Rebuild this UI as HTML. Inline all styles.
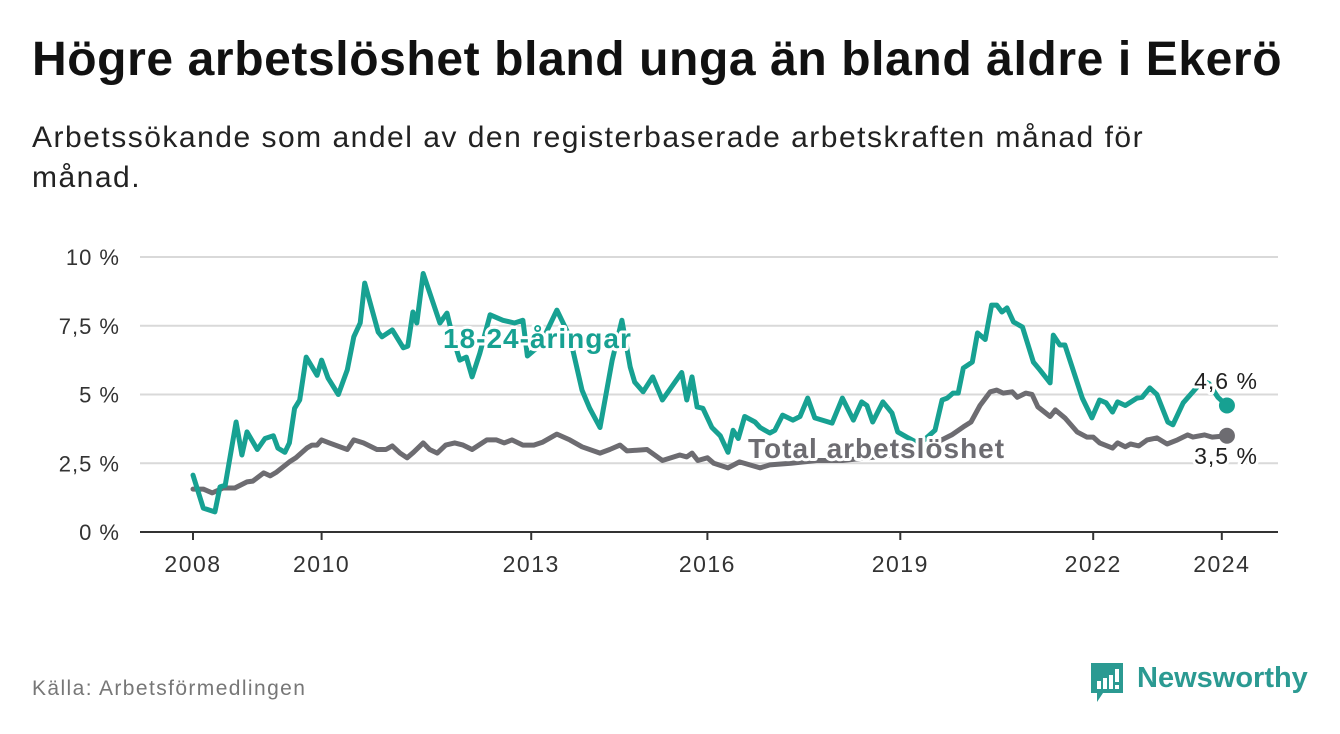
<!DOCTYPE html>
<html><head><meta charset="utf-8">
<style>
html,body{margin:0;padding:0;background:#fff;}
body{width:1340px;height:734px;position:relative;overflow:hidden;font-family:"Liberation Sans","DejaVu Sans",sans-serif;}
h1{position:absolute;left:32px;top:36px;margin:0;font-size:48px;line-height:48px;font-weight:bold;color:#111;letter-spacing:0.6px;white-space:nowrap;}
.sub{position:absolute;left:32px;top:118px;width:1185px;margin:0;font-size:30px;line-height:40px;letter-spacing:1.5px;color:#222;}
.src{position:absolute;left:32px;top:677px;font-size:21px;letter-spacing:1.4px;color:#777;}
svg{position:absolute;left:0;top:0;}
</style></head>
<body>
<h1>Högre arbetslöshet bland unga än bland äldre i Ekerö</h1>
<p class="sub">Arbetssökande som andel av den registerbaserade arbetskraften månad för månad.</p>
<div class="src">Källa: Arbetsförmedlingen</div>
<svg id="chart" width="1340" height="734"></svg>
<div style="position:absolute;left:1089px;top:661px;width:220px;height:44px;">
  <svg width="36" height="44" style="position:absolute;left:0;top:0">
    <path d="M2 2 H34 V32 H14 L8 41 L8 32 H2 Z" fill="#2b9a92"/>
    <rect x="8" y="20" width="4" height="8" fill="#fff"/><rect x="14" y="17" width="4" height="11" fill="#fff"/><rect x="20" y="14" width="4" height="14" fill="#fff"/><rect x="26" y="8" width="4" height="13" fill="#fff"/><rect x="26" y="24" width="4" height="4" fill="#fff"/>
  </svg>
  <div style="position:absolute;left:48px;top:1px;font-size:29px;font-weight:bold;color:#2b9a92;">Newsworthy</div>
</div>
<script>
const yTicks=[0,2.5,5,7.5,10];
const yTickLabels=["0 %","2,5 %","5 %","7,5 %","10 %"];
const xTicks=[2008,2010,2013.26,2016,2019,2022,2024];
const xTickLabels=["2008","2010","2013","2016","2019","2022","2024"];
const youthDates=[2008.0,2008.16,2008.34,2008.42,2008.5,2008.67,2008.76,2008.84,2009.0,2009.12,2009.25,2009.32,2009.43,2009.5,2009.58,2009.66,2009.76,2009.93,2010.0,2010.1,2010.26,2010.4,2010.5,2010.6,2010.67,2010.88,2010.94,2011.1,2011.27,2011.34,2011.42,2011.48,2011.58,2011.84,2011.95,2012.05,2012.15,2012.25,2012.34,2012.46,2012.62,2012.82,2013.0,2013.13,2013.2,2013.4,2013.66,2013.86,2014.05,2014.17,2014.33,2014.52,2014.67,2014.8,2014.87,2015.0,2015.15,2015.3,2015.6,2015.68,2015.76,2015.84,2015.93,2016.07,2016.2,2016.32,2016.4,2016.48,2016.58,2016.74,2016.82,2016.97,2017.05,2017.17,2017.33,2017.44,2017.56,2017.67,2017.94,2018.1,2018.27,2018.4,2018.48,2018.57,2018.73,2018.87,2018.96,2019.1,2019.3,2019.54,2019.65,2019.73,2019.82,2019.9,2019.98,2020.12,2020.2,2020.32,2020.42,2020.5,2020.58,2020.66,2020.76,2020.9,2021.07,2021.17,2021.33,2021.38,2021.48,2021.56,2021.83,2021.98,2022.1,2022.2,2022.3,2022.38,2022.5,2022.68,2022.76,2022.88,2022.99,2023.16,2023.24,2023.4,2023.55,2023.7,2023.8,2023.94,2024.08];
const youthValues=[2.07,0.87,0.73,1.64,1.7,4.0,2.8,3.64,3.0,3.4,3.5,3.05,2.9,3.24,4.5,4.8,6.36,5.7,6.25,5.6,5.0,5.9,7.1,7.6,9.05,7.27,7.1,7.35,6.7,6.76,8.0,7.6,9.4,7.6,7.96,7.0,6.25,6.36,5.64,6.5,7.9,7.7,7.6,7.7,6.4,6.8,8.07,7.1,5.16,4.5,3.8,6.25,7.7,6.0,5.45,5.1,5.64,4.8,5.8,4.8,5.64,4.55,4.5,3.8,3.5,2.9,3.7,3.4,4.2,4.0,3.8,3.6,3.7,4.25,4.07,4.2,4.87,4.15,3.96,4.87,4.07,4.73,4.6,4.0,4.73,4.33,3.64,3.45,3.2,3.7,4.8,4.87,5.05,5.05,5.96,6.18,7.24,7.0,8.25,8.25,8.0,8.15,7.64,7.45,6.18,5.9,5.42,7.16,6.8,6.8,4.87,4.15,4.8,4.7,4.36,4.73,4.6,4.87,4.9,5.24,5.0,4.0,3.9,4.7,5.1,5.5,5.4,4.9,4.6];
const totalDates=[2008.0,2008.16,2008.3,2008.47,2008.65,2008.84,2008.93,2009.1,2009.2,2009.3,2009.5,2009.6,2009.77,2009.85,2009.93,2010.0,2010.12,2010.4,2010.5,2010.65,2010.86,2011.0,2011.1,2011.22,2011.33,2011.43,2011.58,2011.68,2011.8,2011.93,2012.07,2012.2,2012.34,2012.57,2012.72,2012.84,2012.96,2013.13,2013.3,2013.44,2013.66,2013.86,2014.05,2014.33,2014.48,2014.64,2014.75,2015.06,2015.3,2015.57,2015.68,2015.76,2015.85,2016.0,2016.1,2016.32,2016.5,2016.66,2016.82,2016.97,2017.3,2017.7,2018.1,2018.5,2018.9,2019.3,2019.6,2019.8,2019.98,2020.1,2020.24,2020.4,2020.5,2020.6,2020.74,2020.82,2020.95,2021.05,2021.14,2021.33,2021.41,2021.56,2021.75,2021.9,2022.0,2022.1,2022.3,2022.38,2022.5,2022.58,2022.71,2022.84,2022.99,2023.15,2023.31,2023.47,2023.55,2023.73,2023.85,2024.08];
const totalValues=[1.56,1.56,1.42,1.6,1.6,1.82,1.85,2.15,2.04,2.18,2.55,2.7,3.05,3.16,3.16,3.35,3.24,3.0,3.35,3.24,3.0,3.0,3.13,2.87,2.7,2.9,3.24,3.0,2.87,3.16,3.24,3.16,3.0,3.35,3.35,3.24,3.35,3.16,3.16,3.27,3.56,3.35,3.1,2.87,3.0,3.16,2.95,3.0,2.6,2.8,2.73,2.87,2.6,2.7,2.5,2.33,2.55,2.44,2.33,2.44,2.5,2.6,2.6,2.7,2.8,3.0,3.3,3.53,3.82,4.0,4.6,5.1,5.16,5.05,5.1,4.9,5.05,5.0,4.55,4.2,4.44,4.15,3.64,3.45,3.45,3.24,3.05,3.24,3.1,3.2,3.13,3.35,3.42,3.2,3.35,3.53,3.45,3.53,3.45,3.5];

const NS="http://www.w3.org/2000/svg";
const svg=document.getElementById('chart');
const X0=140,X1=1278,Y0=532;
function xs(t){return 193+(t-2008)*64.3;}
function ys(v){return Y0-v*27.5;}
function mk(tag,attrs,parent){const e=document.createElementNS(NS,tag);for(const k in attrs)e.setAttribute(k,attrs[k]);(parent||svg).appendChild(e);return e;}

yTicks.forEach((v,i)=>{
  if(v>0){const g=mk('line',{x1:X0,x2:X1,y1:ys(v),y2:ys(v),stroke:'#d9d9d9','stroke-width':2});
  
  }
  const t=mk('text',{x:120,y:ys(v)+8,'text-anchor':'end','font-size':22,'letter-spacing':1,fill:'#333'});
  t.textContent=yTickLabels[i];
  
  
});
const ax=mk('line',{x1:X0,x2:X1,y1:Y0,y2:Y0,stroke:'#333','stroke-width':2});


xTicks.forEach((t,i)=>{
  const tk=mk('line',{x1:xs(t),x2:xs(t),y1:Y0,y2:Y0+8,stroke:'#333','stroke-width':2});
  
  
  const l=mk('text',{x:xs(t),y:572,'text-anchor':'middle','font-size':23,'letter-spacing':1.5,fill:'#333'});
  l.textContent=xTickLabels[i];
  
  
});
function line(d,v,color,name){
  const p=d.map((t,i)=>(i?'L':'M')+xs(t).toFixed(1)+' '+ys(v[i]).toFixed(1)).join(' ');
  const e=mk('path',{d:p,fill:'none',stroke:color,'stroke-width':5,'stroke-linejoin':'round','stroke-linecap':'round'});
  
  
  const n=d.length-1;
  const c=mk('circle',{cx:xs(d[n]),cy:ys(v[n]),r:8,fill:color});
  
  
}
line(totalDates,totalValues,'#6d6c71','total-line');
line(youthDates,youthValues,'#17a192','youth-line');
function label(txt,x,y,color,size,bold,anchor,ls,name){
  const t=mk('text',{x:x,y:y,'font-size':size,'font-weight':bold?'bold':'normal','letter-spacing':ls,fill:color,stroke:'#fff','stroke-width':6,'paint-order':'stroke','stroke-linejoin':'round','text-anchor':anchor});
  t.textContent=txt;
  
  
}
label('18-24-åringar',443,348,'#17a192',28,true,'start',1,'youth-series-label');
label('Total arbetslöshet',748,458,'#6d6c71',28,true,'start',1,'total-series-label');
label('4,6 %',1226,389,'#222',23,false,'middle',1,'youth-end-value');
label('3,5 %',1226,464,'#222',23,false,'middle',1,'total-end-value');
</script>
</body></html>
